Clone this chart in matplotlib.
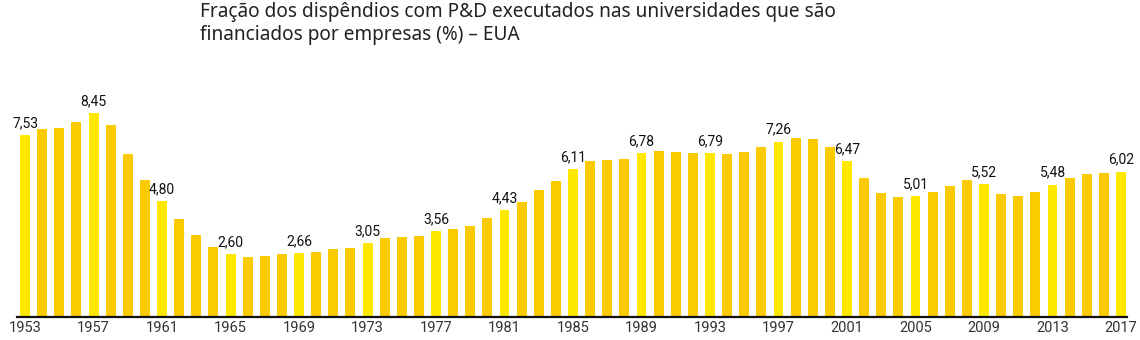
import numpy as np
import matplotlib
matplotlib.use("Agg")
import matplotlib.pyplot as plt

plt.rcParams['font.family'] = ['Roboto', 'DejaVu Sans']

# anos e valores (%)
anos = list(range(1953, 2018))
valores = [7.53, 7.78, 7.84, 8.05, 8.45, 7.93, 6.74, 5.67, 4.80, 4.06,
           3.42, 2.92, 2.60, 2.48, 2.55, 2.63, 2.66, 2.70, 2.81, 2.88,
           3.05, 3.26, 3.31, 3.37, 3.56, 3.65, 3.77, 4.09, 4.43, 4.77,
           5.26, 5.64, 6.11, 6.45, 6.48, 6.53, 6.78, 6.87, 6.81, 6.80,
           6.79, 6.73, 6.84, 7.03, 7.26, 7.40, 7.35, 7.03, 6.47, 5.74,
           5.15, 4.95, 5.01, 5.19, 5.43, 5.68, 5.52, 5.09, 5.00, 5.19,
           5.48, 5.77, 5.93, 5.97, 6.02]
anos_destaque = list(range(1953, 2018, 4))
titulo = "Fração dos dispêndios com P&D executados nas universidades que são\nfinanciados por empresas (%) – EUA"

cor_destaque = '#FFE800'
cor_normal = '#F9CB00'
cores = [cor_destaque if a in anos_destaque else cor_normal for a in anos]

fig = plt.figure(figsize=(11.4, 3.4), dpi=100)
ax = fig.add_axes([17/1140, 22.7/340, 1110/1140, 227.3/340])

ax.bar(anos, valores, width=0.58, color=cores)

# rótulos dos anos destacados
for a, v in zip(anos, valores):
    if a in anos_destaque:
        ax.annotate(f"{v:.2f}".replace('.', ','), (a, v), xytext=(0, 3.5),
                    textcoords='offset points', ha='center', va='bottom',
                    fontsize=10, color='#111111')

ax.set_xlim(1952.53, 2017.35)
ax.set_ylim(0, 9.39)
ax.set_xticks(anos_destaque)
ax.set_xticklabels([str(a) for a in anos_destaque], fontsize=10.5, color='#333333')
ax.tick_params(axis='x', length=0, pad=3)
ax.set_yticks([])
for s in ['top', 'right', 'left']:
    ax.spines[s].set_visible(False)
ax.spines['bottom'].set_linewidth(1.6)
ax.spines['bottom'].set_color('#111111')

fig.text(200/1140, 1 - 2/340, titulo, ha='left', va='top', fontsize=13.7,
         color='#222222', linespacing=1.22, family=['Noto Sans', 'DejaVu Sans'])

fig.savefig('out.png', dpi=100)
